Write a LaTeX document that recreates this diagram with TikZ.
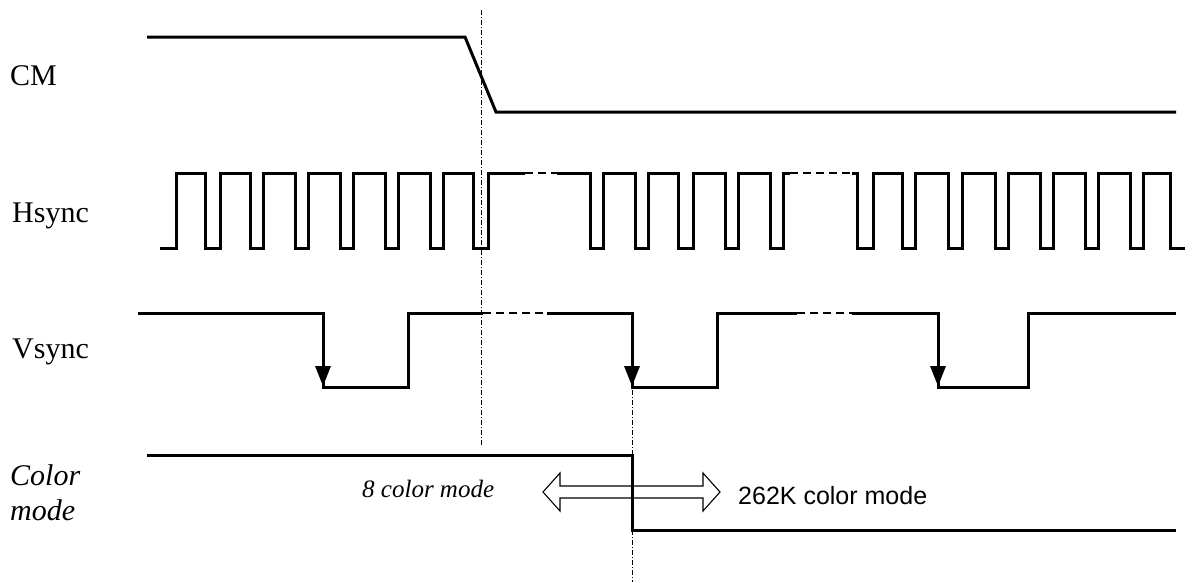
\documentclass[tikz,border=0pt]{standalone}
\usepackage{fontspec}
\setmainfont{Liberation Serif}
\newfontfamily\arialfont{Liberation Sans}
\usetikzlibrary{arrows.meta}
\begin{document}
\begin{tikzpicture}[x=1pt,y=-1pt,
  wave/.style={line width=3pt,line join=miter},
  gapwave/.style={line width=2.6pt,dash pattern=on 8pt off 5pt},
  refline/.style={line width=0.8pt,dash pattern=on 5pt off 2pt on 1pt off 2pt},
  siglabel/.style={anchor=base west,inner sep=0pt,font=\fontsize{30}{32}\selectfont},
  modelabel/.style={anchor=base west,inner sep=0pt,font=\fontsize{30}{32}\selectfont\itshape},
  tip/.style={fill=black}]
\useasboundingbox (0,0) rectangle (1200,582);
\fill[white] (0,0) rectangle (1200,582);

% reference lines
\coordinate (r1t) at (481,10);
\coordinate (r1b) at (481,445);
\coordinate (r2t) at (632,390);
\coordinate (r2b) at (632,582);
\draw[refline] (r1t) -- (r1b);
\draw[refline] (r2t) -- (r2b);

% labels
\node[siglabel] (cm) at (10,85) {CM};
\node[siglabel] (hs) at (12,222) {Hsync};
\node[siglabel] (vs) at (12,358) {Vsync};
\node[modelabel] (cm1) at (10,485) {Color};
\node[modelabel] (cm2) at (10,520) {mode};

% CM
\draw[wave] (147,37) -- (465,37) -- (496,112) -- (1176,112);

% Hsync
\draw[wave] (160,248) -- (176,248)
  foreach \r/\f in {176/205,220/250,263/295,308/340,353/385,398/430,443/473}
    { -- (\r,248) -- (\r,173) -- (\f,173) -- (\f,248) }
  -- (488,248) -- (488,173) -- (525,173);
\draw[gapwave] (525,173) -- (557,173);
\draw[wave] (557,173) -- (590,173) -- (590,248)
  foreach \r/\f in {603/635,648/678,693/725,738/770}
    { -- (\r,248) -- (\r,173) -- (\f,173) -- (\f,248) }
  -- (783,248) -- (783,173) -- (790,173);
\draw[gapwave] (790,173) -- (852,173);
\draw[wave] (852,173) -- (857,173) -- (857,248)
  foreach \r/\f in {873/902,915/948,962/995,1008/1040,1053/1085,1098/1130,1143/1170}
    { -- (\r,248) -- (\r,173) -- (\f,173) -- (\f,248) }
  -- (1185,248);

% Vsync
\draw[wave] (138,313) -- (323,313) -- (323,387) -- (408,387) -- (408,313) -- (483,313);
\draw[gapwave] (483,313) -- (547,313);
\draw[wave] (547,313) -- (632,313) -- (632,387) -- (717,387) -- (717,313) -- (797,313);
\draw[gapwave] (797,313) -- (852,313);
\draw[wave] (852,313) -- (938,313) -- (938,387) -- (1028,387) -- (1028,313) -- (1176,313);
\foreach \x in {323,632,938}
  \fill[tip] (\x-8,366) -- (\x+8,366) -- (\x,386) -- cycle;

% Color mode double arrow
\draw[line width=1.1pt,fill=white] (543,492) -- (560,473) -- (560,486) -- (703,486) -- (703,473)
  -- (720,492) -- (703,511) -- (703,498) -- (560,498) -- (560,511) -- cycle;

% Color mode
\draw[wave] (147,455) -- (632,455) -- (632,530) -- (1176,530);

\node[anchor=base west,inner sep=0pt,font=\fontsize{25}{27}\selectfont\itshape] (m8) at (362,497) {8 color mode};
\node[anchor=base west,inner sep=0pt,font=\arialfont\fontsize{25}{28}\selectfont] (m262) at (738,504) {262K color mode};
\end{tikzpicture}
\end{document}
